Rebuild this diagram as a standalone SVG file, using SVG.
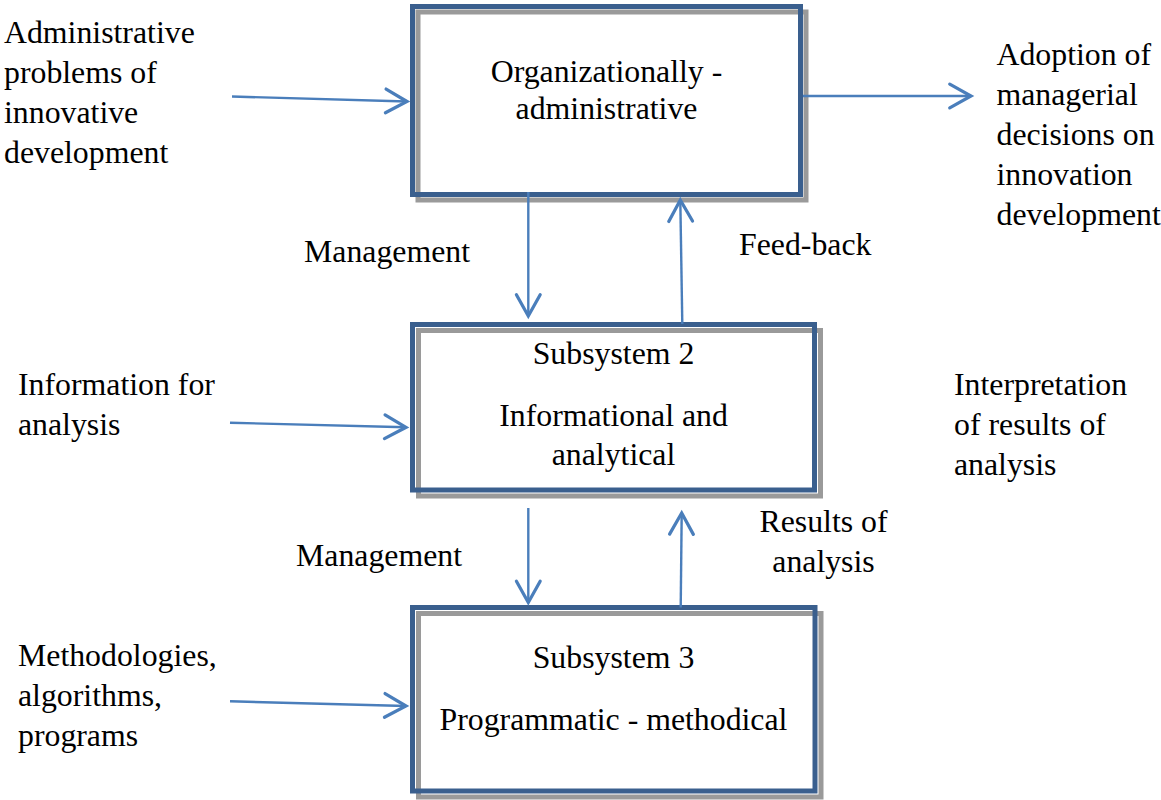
<svg xmlns="http://www.w3.org/2000/svg" width="1161" height="800" viewBox="0 0 1161 800">
  <style>
    text { font-family: "Liberation Serif", "Times New Roman", serif; font-size: 31.8px; fill: #000; }
    .mid { text-anchor: middle; }
    .frame { fill: none; stroke: #3a5f8e; stroke-width: 5; }
    .shade { fill: none; stroke: #9a9a9a; stroke-width: 5; }
    .face { fill: #fff; stroke: none; }
    .link { fill: none; stroke: #4a7ebb; stroke-width: 2.4; marker-end: url(#chevron); }
  </style>
  <defs>
    <marker id="chevron" markerUnits="userSpaceOnUse" markerWidth="30" markerHeight="30" viewBox="-20 -12 22 24" refX="0" refY="0" orient="auto" overflow="visible">
      <path d="M-17,-9.5 L0,0 L-17,9.5" fill="none" stroke="#4a7ebb" stroke-width="2.6" stroke-linecap="round" stroke-linejoin="miter"/>
    </marker>
  </defs>

  <rect width="1161" height="800" fill="#fff"/>

  <!-- Subsystem 1 -->
  <g id="box-admin">
    <rect class="face" x="412.5" y="6.5" width="388" height="188"/>
    <rect class="shade" x="418" y="12" width="388" height="188"/>
    <rect class="frame" x="412.5" y="6.5" width="388" height="188"/>
    <text class="mid" x="606.5" y="81.7">Organizationally -</text>
    <text class="mid" x="606.5" y="119.3">administrative</text>
  </g>

  <!-- Subsystem 2 -->
  <g id="box-info">
    <rect class="face" x="412.5" y="324.5" width="402" height="165.5"/>
    <rect class="shade" x="418.5" y="330.5" width="402" height="165.5"/>
    <rect class="frame" x="412.5" y="324.5" width="402" height="165.5"/>
    <text class="mid" x="613.5" y="364.3">Subsystem 2</text>
    <text class="mid" x="613.5" y="426">Informational and</text>
    <text class="mid" x="613.5" y="465">analytical</text>
  </g>

  <!-- Subsystem 3 -->
  <g id="box-method">
    <rect class="face" x="412.5" y="607.5" width="402.5" height="183.5"/>
    <rect class="shade" x="418.5" y="613.5" width="402.5" height="183.5"/>
    <rect class="frame" x="412.5" y="607.5" width="402.5" height="183.5"/>
    <text class="mid" x="613.5" y="668.3">Subsystem 3</text>
    <text class="mid" x="613.5" y="730">Programmatic - methodical</text>
  </g>

  <!-- Connectors -->
  <g id="connectors">
    <line class="link" x1="232" y1="96.5" x2="407" y2="101.5"/>
    <line class="link" x1="803" y1="96" x2="971" y2="96"/>
    <line class="link" x1="528.3" y1="192" x2="528.3" y2="316"/>
    <line class="link" x1="682.3" y1="324" x2="680.3" y2="200"/>
    <line class="link" x1="230" y1="422.7" x2="406" y2="427.3"/>
    <line class="link" x1="528.3" y1="508" x2="528.3" y2="602.5"/>
    <line class="link" x1="680.7" y1="607.5" x2="681.7" y2="513"/>
    <line class="link" x1="230" y1="701.3" x2="406" y2="706"/>
  </g>

  <!-- Labels -->
  <g id="labels">
    <text x="4" y="42.7">Administrative</text>
    <text x="4" y="82.7">problems of</text>
    <text x="4" y="122.7">innovative</text>
    <text x="4" y="162.7">development</text>

    <text x="996.5" y="65">Adoption of</text>
    <text x="996.5" y="105">managerial</text>
    <text x="996.5" y="145">decisions on</text>
    <text x="996.5" y="185">innovation</text>
    <text x="996.5" y="225">development</text>

    <text x="304" y="262">Management</text>
    <text x="739" y="255">Feed-back</text>

    <text x="18" y="395">Information for</text>
    <text x="18" y="435">analysis</text>

    <text x="954" y="395">Interpretation</text>
    <text x="954" y="435">of results of</text>
    <text x="954" y="475">analysis</text>

    <text x="296" y="566">Management</text>
    <text class="mid" x="823.5" y="532">Results of</text>
    <text class="mid" x="823.5" y="572">analysis</text>

    <text x="18" y="666">Methodologies,</text>
    <text x="18" y="706">algorithms,</text>
    <text x="18" y="746">programs</text>
  </g>
</svg>
